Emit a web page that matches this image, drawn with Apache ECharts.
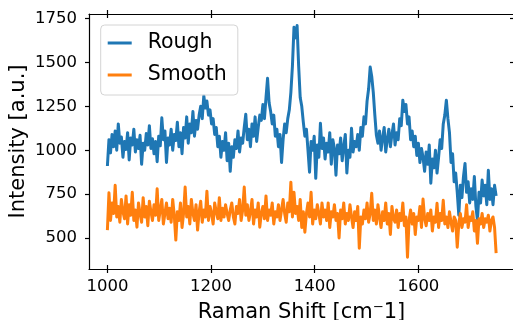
<!DOCTYPE html>
<html><head><meta charset="utf-8">
<script src="https://cdn.jsdelivr.net/npm/echarts@6/dist/echarts.min.js"></script>
<style>html,body{margin:0;padding:0;background:#fff}#c{width:513px;height:320px}</style>
</head><body><div id="c"></div>
<script>
// Raman shift sampling (cm^-1): evenly sampled spectrum
const shiftStart = 1000;
const shiftStep = 3;

const roughIntensity = [
  910, 1060, 985, 1090, 1020, 1110, 1000, 1150, 1040, 1075,
  960, 1050, 1005, 1100, 945, 1070, 1030, 1120, 990, 1060,
  1010, 1085, 920, 1040, 1000, 1095, 1030, 1140, 1010, 1065,
  980, 1050, 935, 1080, 1025, 1185, 1060, 1110, 930, 1070,
  1030, 1120, 1000, 1090, 1055, 1160, 1020, 1100, 980, 1130,
  1070, 1190, 1040, 1150, 1100, 1220, 1080, 1170, 1120, 1200,
  1250, 1180, 1310, 1240, 1280, 1200, 1230, 1150, 1180, 1090,
  1130, 1020, 1080, 960, 1050, 1000, 1100, 940, 1040, 880,
  1020, 960, 1060, 1010, 1110, 990, 1070, 1040, 1130, 1205,
  1060, 1120, 1020, 1150, 1080, 1190, 1050, 1130, 1200, 1170,
  1260, 1180, 1300, 1410, 1270, 1220, 1150, 1200, 1080, 1120,
  1020, 1090, 930, 1060, 1150, 1100, 1180, 1230, 1330, 1480,
  1700, 1640, 1710, 1480, 1300, 1250, 1160, 1080, 1120, 1000,
  875, 1050, 1000, 1080, 840, 1030, 960, 1154, 1010, 1070,
  950, 1040, 990, 1100, 920, 1060, 1010, 858, 1030, 980,
  1070, 940, 1020, 1090, 870, 1000, 960, 1125, 990, 1050,
  1020, 1090, 1000, 1130, 1080, 1190, 1150, 1280, 1350, 1474,
  1420, 1330, 1200, 1085, 1040, 1110, 1000, 1070, 1130, 990,
  1060, 1120, 1020, 1090, 1150, 1030, 1100, 1060, 1180, 1140,
  1285, 1220, 1260, 1150, 1190, 1060, 1110, 1020, 1080, 970,
  1040, 930, 1010, 960, 880, 990, 920, 1030, 812, 950,
  900, 1000, 870, 960, 1060, 1010, 1150, 1200, 1285, 1180,
  1100, 930, 980, 820, 870, 760, 630, 800, 730, 850,
  925, 760, 820, 700, 780, 720, 850, 680, 600, 760,
  700, 830, 740, 800, 690, 886, 720, 780, 690, 800,
  740
];

const smoothIntensity = [
  545, 758, 600, 700, 640, 800, 620, 680, 590, 720,
  650, 610, 740, 580, 690, 630, 760, 600, 660, 562,
  700, 640, 590, 730, 620, 680, 570, 710, 650, 600,
  690, 630, 780, 600, 660, 720, 580, 640, 700, 610,
  670, 590, 720, 630, 488, 650, 600, 700, 560, 640,
  790, 620, 680, 580, 720, 640, 600, 690, 545, 650,
  710, 590, 660, 620, 767, 600, 680, 640, 580, 700,
  650, 610, 730, 600, 670, 620, 690, 640, 600, 660,
  700, 620, 580, 680, 640, 720, 600, 660, 790, 630,
  690, 600, 650, 720, 580, 660, 620, 700, 562, 640,
  680, 610, 740, 600, 660, 630, 700, 580, 650, 620,
  690, 600, 660, 720, 640, 590, 700, 650, 818, 620,
  760, 640, 680, 600, 720, 560, 650, 533, 640, 700,
  620, 760, 580, 660, 610, 690, 640, 580, 700, 620,
  660, 600, 700, 560, 650, 620, 690, 600, 640, 500,
  660, 610, 700, 580, 640, 600, 690, 620, 560, 650,
  600, 680, 442, 620, 580, 660, 610, 700, 590, 640,
  755, 600, 660, 580, 690, 620, 560, 650, 600, 700,
  580, 640, 520, 680, 610, 590, 660, 560, 640, 600,
  700, 570, 620, 391, 600, 660, 580, 640, 520, 620,
  600, 680, 560, 722, 610, 570, 640, 600, 660, 540,
  620, 590, 698, 560, 640, 600, 715, 580, 620, 560,
  650, 590, 540, 620, 600, 448, 580, 640, 560, 610,
  590, 690, 560, 620, 600, 650, 540, 600, 470, 610,
  580, 640, 560, 610, 590, 630, 540, 600, 620, 560,
  414
];

const seriesNames = ['Rough', 'Smooth'];
const seriesColors = ['#1f77b4', '#ff7f0e'];
const xTickValues = [1000, 1200, 1400, 1600];
const yTickValues = [500, 750, 1000, 1250, 1500, 1750];
const xRange = [964.5, 1784.5];
const yRange = [323.5, 1776];
const xTitle = 'Raman Shift [cm\u207B1]';
const yTitle = 'Intensity [a.u.]';

const ramanShift = roughIntensity.map((_, i) => shiftStart + i * shiftStep);
const font = 'DejaVu Sans';
const black = '#000';
const plain = v => String(v);

const chart = echarts.init(document.getElementById('c'), null, { renderer: 'canvas' });

function xAx(position, inside, showLine, showLabel, extra) {
  return Object.assign({
    type: 'value', position: position, min: xRange[0], max: xRange[1],
    splitLine: { show: false },
    axisLine: { show: showLine, onZero: false, lineStyle: { color: black, width: 1.2 } },
    axisTick: { show: true, inside: inside, length: 4, customValues: xTickValues, lineStyle: { color: black, width: 1.2 } },
    axisLabel: showLabel ? { show: true, customValues: xTickValues, formatter: plain, color: black, fontSize: 16.5, fontFamily: font, margin: 9 } : { show: false }
  }, extra || {});
}
function yAx(position, inside, showLabel, extra) {
  return Object.assign({
    type: 'value', position: position, min: yRange[0], max: yRange[1],
    splitLine: { show: false },
    axisLine: { show: true, onZero: false, lineStyle: { color: black, width: 1.2 } },
    axisTick: { show: true, inside: inside, length: 4, customValues: yTickValues, lineStyle: { color: black, width: 1.2 } },
    axisLabel: showLabel ? { show: true, customValues: yTickValues, formatter: plain, color: black, fontSize: 16.5, fontFamily: font, margin: 12 } : { show: false }
  }, extra || {});
}

const option = {
  animation: false,
  backgroundColor: '#fff',
  grid: { left: 89, top: 14, width: 425, height: 255, containLabel: false, outerBoundsMode: 'none' },
  xAxis: [
    xAx('bottom', false, true, true, {
      name: xTitle, nameLocation: 'middle', nameGap: 33, nameMoveOverlap: false,
      nameTextStyle: { color: black, fontSize: 21, fontFamily: font }
    }),
    xAx('bottom', true, false, false),
    xAx('top', false, true, false),
    xAx('top', true, false, false)
  ],
  yAxis: [
    yAx('left', false, true, {
      name: yTitle, nameLocation: 'middle', nameGap: 60, nameRotate: 90, nameMoveOverlap: false,
      nameTextStyle: { color: black, fontSize: 21, fontFamily: font }
    }),
    yAx('right', true, false)
  ],
  legend: {
    orient: 'vertical', left: 100.7, top: 25,
    data: seriesNames.map(n => ({ name: n, icon: 'rect' })),
    itemWidth: 24, itemHeight: 3, itemGap: 10,
    padding: [7, 11, 9, 7],
    backgroundColor: 'rgba(255,255,255,0.8)',
    borderColor: '#d4d4d4', borderWidth: 1, borderRadius: 4,
    textStyle: { fontFamily: font, fontSize: 20.5, color: black, lineHeight: 22, padding: [0, 0, 0, 11] }
  },
  series: [
    {
      name: seriesNames[0], type: 'line', xAxisIndex: 0, yAxisIndex: 0,
      data: ramanShift.map((x, i) => [x, roughIntensity[i]]),
      showSymbol: false, symbol: 'none', smooth: false,
      lineStyle: { width: 3, color: seriesColors[0], join: 'round' },
      itemStyle: { color: seriesColors[0] }
    },
    {
      name: seriesNames[1], type: 'line', xAxisIndex: 0, yAxisIndex: 0,
      data: ramanShift.map((x, i) => [x, smoothIntensity[i]]),
      showSymbol: false, symbol: 'none', smooth: false,
      lineStyle: { width: 3, color: seriesColors[1], join: 'round' },
      itemStyle: { color: seriesColors[1] }
    }
  ]
};
chart.setOption(option);
</script>
</body></html>
